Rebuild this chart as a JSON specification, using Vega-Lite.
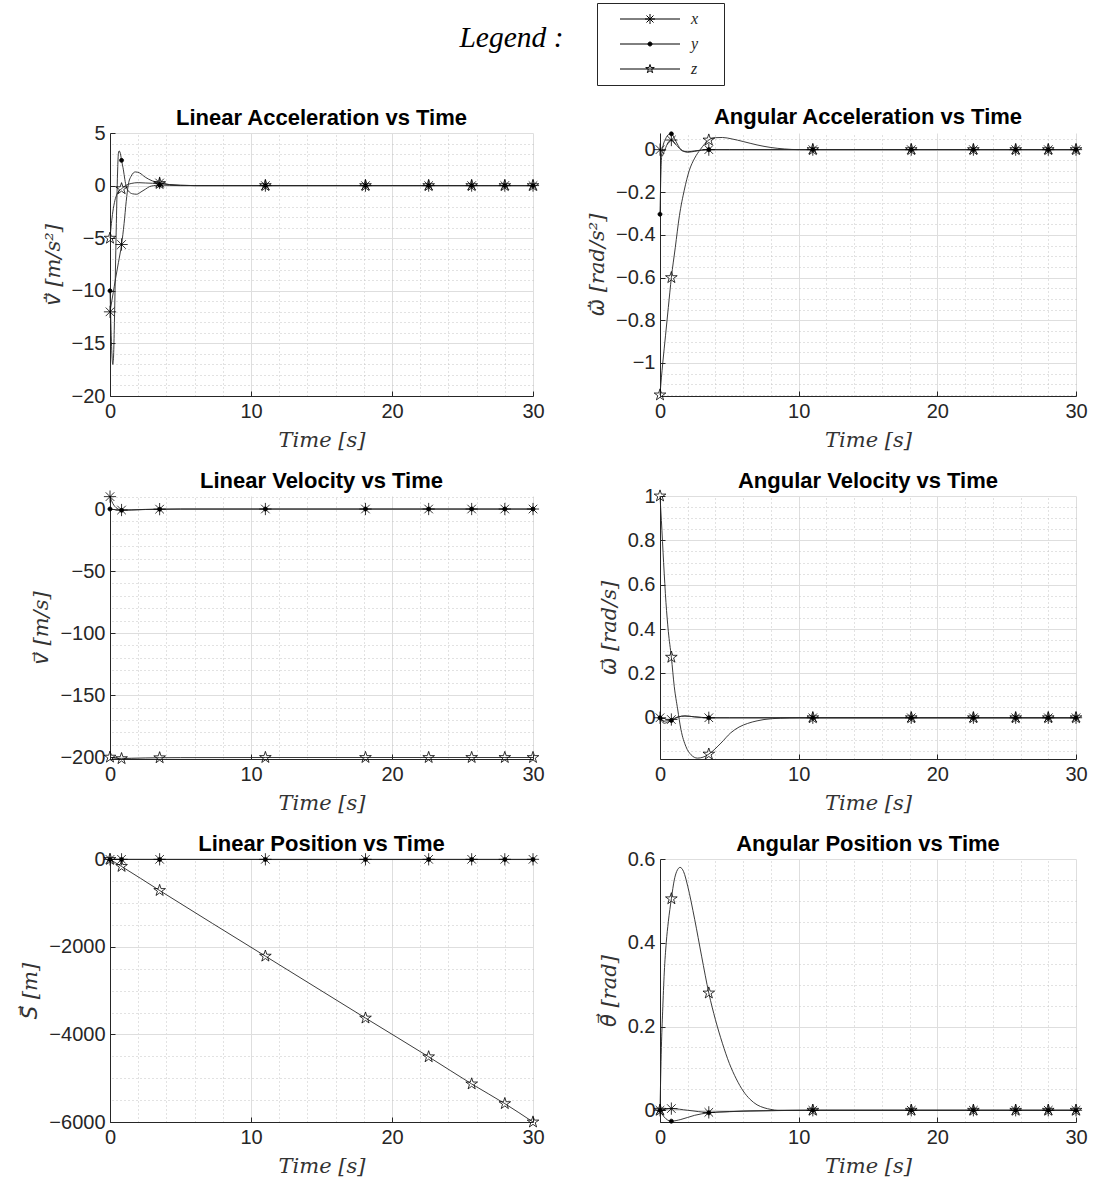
{
 "$schema": "https://vega.github.io/schema/vega-lite/v6.json",
 "background": "white",
 "padding": {"left": 19, "top": 2, "right": 5, "bottom": 5},
 "title": {"text": "Legend :", "font": "Liberation Serif", "fontStyle": "italic", "fontWeight": "normal", "fontSize": 29.5, "color": "#000", "anchor": "middle", "dx": -42, "offset": -51},
 "datasets": {
  "p1": [
   {"s":"x","t":0,"v":-12,"m":1},{"s":"x","t":0.2,"v":-10.4},{"s":"x","t":0.4,"v":-8.8},{"s":"x","t":0.6,"v":-7.3},{"s":"x","t":0.82,"v":-5.6,"m":1},{"s":"x","t":1.0,"v":-3.6},{"s":"x","t":1.15,"v":-1.5},{"s":"x","t":1.3,"v":0.1},{"s":"x","t":1.5,"v":0.9},{"s":"x","t":1.8,"v":1.3},{"s":"x","t":2.1,"v":1.2},{"s":"x","t":2.5,"v":0.8},{"s":"x","t":3.0,"v":0.45},{"s":"x","t":3.52,"v":0.25,"m":1},{"s":"x","t":4.2,"v":0.1},{"s":"x","t":5,"v":0.03},{"s":"x","t":6,"v":0},
   {"s":"x","t":11.02,"v":0,"m":1},{"s":"x","t":18.12,"v":0,"m":1},{"s":"x","t":22.6,"v":0,"m":1},{"s":"x","t":25.65,"v":0,"m":1},{"s":"x","t":28,"v":0,"m":1},{"s":"x","t":30,"v":0,"m":1},
   {"s":"y","t":0,"v":-10,"m":1},{"s":"y","t":0.05,"v":-12.5},{"s":"y","t":0.1,"v":-14.8},{"s":"y","t":0.15,"v":-16.4},{"s":"y","t":0.2,"v":-17},{"s":"y","t":0.25,"v":-16.3},{"s":"y","t":0.3,"v":-13.8},{"s":"y","t":0.35,"v":-10.5},{"s":"y","t":0.4,"v":-7},{"s":"y","t":0.45,"v":-3.6},{"s":"y","t":0.5,"v":-0.6},{"s":"y","t":0.55,"v":1.8},{"s":"y","t":0.6,"v":3.1},{"s":"y","t":0.65,"v":3.3},{"s":"y","t":0.7,"v":3.2},{"s":"y","t":0.76,"v":2.9},{"s":"y","t":0.82,"v":2.4,"m":1},{"s":"y","t":0.95,"v":1.5},{"s":"y","t":1.05,"v":0.6},{"s":"y","t":1.15,"v":-0.1},{"s":"y","t":1.3,"v":-0.5},{"s":"y","t":1.6,"v":-0.78},{"s":"y","t":1.9,"v":-0.82},{"s":"y","t":2.2,"v":-0.6},{"s":"y","t":2.5,"v":-0.35},{"s":"y","t":2.8,"v":-0.1},{"s":"y","t":3.1,"v":0},{"s":"y","t":3.52,"v":0.05,"m":1},{"s":"y","t":4.2,"v":0.02},{"s":"y","t":5,"v":0},
   {"s":"y","t":11.02,"v":0,"m":1},{"s":"y","t":18.12,"v":0,"m":1},{"s":"y","t":22.6,"v":0,"m":1},{"s":"y","t":25.65,"v":0,"m":1},{"s":"y","t":28,"v":0,"m":1},{"s":"y","t":30,"v":0,"m":1},
   {"s":"z","t":0,"v":-5,"m":1},{"s":"z","t":0.1,"v":-3.6},{"s":"z","t":0.2,"v":-2.5},{"s":"z","t":0.35,"v":-1.4},{"s":"z","t":0.5,"v":-0.8},{"s":"z","t":0.65,"v":-0.5},{"s":"z","t":0.82,"v":-0.3,"m":1},{"s":"z","t":1.1,"v":0},{"s":"z","t":1.5,"v":0.2},{"s":"z","t":2,"v":0.28},{"s":"z","t":2.5,"v":0.25},{"s":"z","t":3,"v":0.22},{"s":"z","t":3.52,"v":0.2,"m":1},{"s":"z","t":4.2,"v":0.1},{"s":"z","t":5,"v":0.03},{"s":"z","t":6,"v":0},
   {"s":"z","t":11.02,"v":0,"m":1},{"s":"z","t":18.12,"v":0,"m":1},{"s":"z","t":22.6,"v":0,"m":1},{"s":"z","t":25.65,"v":0,"m":1},{"s":"z","t":28,"v":0,"m":1},{"s":"z","t":30,"v":0,"m":1}
  ],
  "p2": [
   {"s":"x","t":0,"v":0,"m":1},{"s":"x","t":0.15,"v":-0.03},{"s":"x","t":0.35,"v":0},{"s":"x","t":0.6,"v":0.035},{"s":"x","t":0.82,"v":0.045,"m":1},{"s":"x","t":1.2,"v":0.02},{"s":"x","t":1.6,"v":-0.005},{"s":"x","t":2,"v":-0.01},{"s":"x","t":2.5,"v":-0.006},{"s":"x","t":3,"v":-0.002},{"s":"x","t":3.52,"v":0,"m":1},{"s":"x","t":5,"v":0},
   {"s":"x","t":11.02,"v":0,"m":1},{"s":"x","t":18.12,"v":0,"m":1},{"s":"x","t":22.6,"v":0,"m":1},{"s":"x","t":25.65,"v":0,"m":1},{"s":"x","t":28,"v":0,"m":1},{"s":"x","t":30,"v":0,"m":1},
   {"s":"y","t":0,"v":-0.303,"m":1},{"s":"y","t":0.05,"v":-0.15},{"s":"y","t":0.1,"v":-0.05},{"s":"y","t":0.2,"v":0.01},{"s":"y","t":0.4,"v":0.05},{"s":"y","t":0.6,"v":0.07},{"s":"y","t":0.82,"v":0.074,"m":1},{"s":"y","t":1.1,"v":0.045},{"s":"y","t":1.4,"v":0.01},{"s":"y","t":1.7,"v":-0.008},{"s":"y","t":2,"v":-0.012},{"s":"y","t":2.5,"v":-0.008},{"s":"y","t":3,"v":-0.002},{"s":"y","t":3.52,"v":0,"m":1},{"s":"y","t":5,"v":0},
   {"s":"y","t":11.02,"v":0,"m":1},{"s":"y","t":18.12,"v":0,"m":1},{"s":"y","t":22.6,"v":0,"m":1},{"s":"y","t":25.65,"v":0,"m":1},{"s":"y","t":28,"v":0,"m":1},{"s":"y","t":30,"v":0,"m":1},
   {"s":"z","t":0,"v":-1.15,"m":1},{"s":"z","t":0.1,"v":-1.07},{"s":"z","t":0.2,"v":-1.0},{"s":"z","t":0.4,"v":-0.87},{"s":"z","t":0.6,"v":-0.74},{"s":"z","t":0.82,"v":-0.6,"m":1},{"s":"z","t":1.1,"v":-0.46},{"s":"z","t":1.4,"v":-0.31},{"s":"z","t":1.75,"v":-0.19},{"s":"z","t":2.1,"v":-0.1},{"s":"z","t":2.5,"v":-0.04},{"s":"z","t":2.9,"v":0},{"s":"z","t":3.52,"v":0.045,"m":1},{"s":"z","t":4,"v":0.056},{"s":"z","t":4.5,"v":0.057},{"s":"z","t":5.2,"v":0.05},{"s":"z","t":6,"v":0.038},{"s":"z","t":7,"v":0.022},{"s":"z","t":8,"v":0.01},{"s":"z","t":9,"v":0.003},{"s":"z","t":10,"v":0},
   {"s":"z","t":11.02,"v":0,"m":1},{"s":"z","t":18.12,"v":0,"m":1},{"s":"z","t":22.6,"v":0,"m":1},{"s":"z","t":25.65,"v":0,"m":1},{"s":"z","t":28,"v":0,"m":1},{"s":"z","t":30,"v":0,"m":1}
  ],
  "p3": [
   {"s":"x","t":0,"v":10,"m":1},{"s":"x","t":0.1,"v":7},{"s":"x","t":0.2,"v":4.5},{"s":"x","t":0.35,"v":2},{"s":"x","t":0.5,"v":0.5},{"s":"x","t":0.82,"v":-0.8,"m":1},{"s":"x","t":1.5,"v":-0.7},{"s":"x","t":2.5,"v":-0.3},{"s":"x","t":3.52,"v":-0.1,"m":1},{"s":"x","t":5,"v":0},
   {"s":"x","t":11.02,"v":0,"m":1},{"s":"x","t":18.12,"v":0,"m":1},{"s":"x","t":22.6,"v":0,"m":1},{"s":"x","t":25.65,"v":0,"m":1},{"s":"x","t":28,"v":0,"m":1},{"s":"x","t":30,"v":0,"m":1},
   {"s":"y","t":0,"v":0,"m":1},{"s":"y","t":0.4,"v":-0.6},{"s":"y","t":0.82,"v":-1,"m":1},{"s":"y","t":1.5,"v":-0.8},{"s":"y","t":2.5,"v":-0.4},{"s":"y","t":3.52,"v":-0.2,"m":1},{"s":"y","t":5,"v":0},
   {"s":"y","t":11.02,"v":0,"m":1},{"s":"y","t":18.12,"v":0,"m":1},{"s":"y","t":22.6,"v":0,"m":1},{"s":"y","t":25.65,"v":0,"m":1},{"s":"y","t":28,"v":0,"m":1},{"s":"y","t":30,"v":0,"m":1},
   {"s":"z","t":0,"v":-200,"m":1},{"s":"z","t":0.3,"v":-200.8},{"s":"z","t":0.82,"v":-201.2,"m":1},{"s":"z","t":1.5,"v":-201},{"s":"z","t":2.5,"v":-200.7},{"s":"z","t":3.52,"v":-200.5,"m":1},{"s":"z","t":5,"v":-200.4},
   {"s":"z","t":11.02,"v":-200.3,"m":1},{"s":"z","t":18.12,"v":-200.3,"m":1},{"s":"z","t":22.6,"v":-200.3,"m":1},{"s":"z","t":25.65,"v":-200.3,"m":1},{"s":"z","t":28,"v":-200.3,"m":1},{"s":"z","t":30,"v":-200.3,"m":1}
  ],
  "p4": [
   {"s":"x","t":0,"v":0,"m":1},{"s":"x","t":0.3,"v":-0.015},{"s":"x","t":0.82,"v":-0.008,"m":1},{"s":"x","t":1.3,"v":0.004},{"s":"x","t":1.8,"v":0.008},{"s":"x","t":2.5,"v":0.004},{"s":"x","t":3.52,"v":0,"m":1},{"s":"x","t":5,"v":0},
   {"s":"x","t":11.02,"v":0,"m":1},{"s":"x","t":18.12,"v":0,"m":1},{"s":"x","t":22.6,"v":0,"m":1},{"s":"x","t":25.65,"v":0,"m":1},{"s":"x","t":28,"v":0,"m":1},{"s":"x","t":30,"v":0,"m":1},
   {"s":"y","t":0,"v":0,"m":1},{"s":"y","t":0.3,"v":-0.025},{"s":"y","t":0.6,"v":-0.018},{"s":"y","t":0.82,"v":-0.012,"m":1},{"s":"y","t":1.3,"v":0.003},{"s":"y","t":1.8,"v":0.008},{"s":"y","t":2.5,"v":0.004},{"s":"y","t":3.52,"v":0,"m":1},{"s":"y","t":5,"v":0},
   {"s":"y","t":11.02,"v":0,"m":1},{"s":"y","t":18.12,"v":0,"m":1},{"s":"y","t":22.6,"v":0,"m":1},{"s":"y","t":25.65,"v":0,"m":1},{"s":"y","t":28,"v":0,"m":1},{"s":"y","t":30,"v":0,"m":1},
   {"s":"z","t":0,"v":1,"m":1},{"s":"z","t":0.1,"v":0.89},{"s":"z","t":0.26,"v":0.7},{"s":"z","t":0.43,"v":0.52},{"s":"z","t":0.6,"v":0.39},{"s":"z","t":0.82,"v":0.273,"m":1},{"s":"z","t":1.03,"v":0.14},{"s":"z","t":1.27,"v":0.04},{"s":"z","t":1.51,"v":-0.053},{"s":"z","t":1.87,"v":-0.13},{"s":"z","t":2.24,"v":-0.167},{"s":"z","t":2.7,"v":-0.182},{"s":"z","t":3.1,"v":-0.178},{"s":"z","t":3.52,"v":-0.164,"m":1},{"s":"z","t":4.4,"v":-0.114},{"s":"z","t":5.1,"v":-0.068},{"s":"z","t":5.7,"v":-0.042},{"s":"z","t":6.3,"v":-0.026},{"s":"z","t":7,"v":-0.014},{"s":"z","t":7.5,"v":-0.008},{"s":"z","t":8.7,"v":-0.002},{"s":"z","t":10,"v":0},
   {"s":"z","t":11.02,"v":0,"m":1},{"s":"z","t":18.12,"v":0,"m":1},{"s":"z","t":22.6,"v":0,"m":1},{"s":"z","t":25.65,"v":0,"m":1},{"s":"z","t":28,"v":0,"m":1},{"s":"z","t":30,"v":0,"m":1}
  ],
  "p5": [
   {"s":"x","t":0,"v":0,"m":1},{"s":"x","t":0.3,"v":1.8},{"s":"x","t":0.82,"v":2.5,"m":1},{"s":"x","t":3.52,"v":2.6,"m":1},
   {"s":"x","t":11.02,"v":2.6,"m":1},{"s":"x","t":18.12,"v":2.6,"m":1},{"s":"x","t":22.6,"v":2.6,"m":1},{"s":"x","t":25.65,"v":2.6,"m":1},{"s":"x","t":28,"v":2.6,"m":1},{"s":"x","t":30,"v":2.6,"m":1},
   {"s":"y","t":0,"v":0,"m":1},{"s":"y","t":0.82,"v":-0.5,"m":1},{"s":"y","t":3.52,"v":-1.5,"m":1},
   {"s":"y","t":11.02,"v":-1.8,"m":1},{"s":"y","t":18.12,"v":-1.8,"m":1},{"s":"y","t":22.6,"v":-1.8,"m":1},{"s":"y","t":25.65,"v":-1.8,"m":1},{"s":"y","t":28,"v":-1.8,"m":1},{"s":"y","t":30,"v":-1.8,"m":1},
   {"s":"z","t":0,"v":0,"m":1},{"s":"z","t":0.82,"v":-160,"m":1},{"s":"z","t":3.52,"v":-710,"m":1},{"s":"z","t":11.02,"v":-2210,"m":1},{"s":"z","t":18.12,"v":-3625,"m":1},{"s":"z","t":22.6,"v":-4510,"m":1},{"s":"z","t":25.65,"v":-5130,"m":1},{"s":"z","t":28,"v":-5580,"m":1},{"s":"z","t":30,"v":-6000,"m":1}
  ],
  "p6": [
   {"s":"x","t":0,"v":0,"m":1},{"s":"x","t":0.82,"v":0.004,"m":1},{"s":"x","t":2,"v":0},{"s":"x","t":3.52,"v":-0.005,"m":1},{"s":"x","t":6,"v":-0.002},
   {"s":"x","t":11.02,"v":0,"m":1},{"s":"x","t":18.12,"v":0,"m":1},{"s":"x","t":22.6,"v":0,"m":1},{"s":"x","t":25.65,"v":0,"m":1},{"s":"x","t":28,"v":0,"m":1},{"s":"x","t":30,"v":0,"m":1},
   {"s":"y","t":0,"v":0,"m":1},{"s":"y","t":0.3,"v":-0.016},{"s":"y","t":0.82,"v":-0.026,"m":1},{"s":"y","t":1.5,"v":-0.022},{"s":"y","t":2.5,"v":-0.012},{"s":"y","t":3.52,"v":-0.006,"m":1},{"s":"y","t":5,"v":-0.003},{"s":"y","t":8,"v":-0.001},
   {"s":"y","t":11.02,"v":0,"m":1},{"s":"y","t":18.12,"v":0,"m":1},{"s":"y","t":22.6,"v":0,"m":1},{"s":"y","t":25.65,"v":0,"m":1},{"s":"y","t":28,"v":0,"m":1},{"s":"y","t":30,"v":0,"m":1},
   {"s":"z","t":0,"v":0,"m":1},{"s":"z","t":0.05,"v":0.08},{"s":"z","t":0.1,"v":0.15},{"s":"z","t":0.19,"v":0.235},{"s":"z","t":0.31,"v":0.33},{"s":"z","t":0.45,"v":0.4},{"s":"z","t":0.6,"v":0.45},{"s":"z","t":0.82,"v":0.505,"m":1},{"s":"z","t":1.03,"v":0.55},{"s":"z","t":1.2,"v":0.57},{"s":"z","t":1.45,"v":0.58},{"s":"z","t":1.7,"v":0.57},{"s":"z","t":2,"v":0.535},{"s":"z","t":2.5,"v":0.456},{"s":"z","t":3,"v":0.368},{"s":"z","t":3.52,"v":0.28,"m":1},{"s":"z","t":4,"v":0.216},{"s":"z","t":4.5,"v":0.16},{"s":"z","t":5,"v":0.112},{"s":"z","t":5.5,"v":0.075},{"s":"z","t":6,"v":0.046},{"s":"z","t":6.5,"v":0.026},{"s":"z","t":7,"v":0.013},{"s":"z","t":7.5,"v":0.006},{"s":"z","t":8,"v":0.002},{"s":"z","t":8.5,"v":0},
   {"s":"z","t":11.02,"v":0,"m":1},{"s":"z","t":18.12,"v":0,"m":1},{"s":"z","t":22.6,"v":0,"m":1},{"s":"z","t":25.65,"v":0,"m":1},{"s":"z","t":28,"v":0,"m":1},{"s":"z","t":30,"v":0,"m":1}
  ]
 },
 "columns": 2,
 "spacing": {"row": 100, "column": 127},
 "bounds": "flush",
 "align": "all",
 "concat": [
  {"title": {"text": "Linear Acceleration vs Time", "offset": -7}, "width": 423, "height": 263, "data": {"name": "p1"},
   "layer": [
    {"mark": {"type": "line", "interpolate": "monotone", "stroke": "#262626", "strokeWidth": 0.9},
     "encoding": {
      "x": {"field": "t", "type": "quantitative", "scale": {"domain": [0, 30], "nice": false, "zero": false}, "axis": {"values": [0, 10, 20, 30], "title": "Time [s]", "grid": true, "labelExpr": "format(datum.value, '~g')"}},
      "y": {"field": "v", "type": "quantitative", "scale": {"domain": [-20, 5], "nice": false, "zero": false}, "axis": {"values": [-20, -15, -10, -5, 0, 5], "title": "v\u0307\u20d7 [m/s\u00b2]", "grid": true, "labelExpr": "format(datum.value, '~g')"}},
      "detail": {"field": "s", "type": "nominal"}}},
    {"transform": [{"filter": "datum.m == 1 && datum.s == 'x'"}],
     "mark": {"type": "point", "shape": "M0,-1V1M-1,0H1M-0.7,-0.7L0.7,0.7M-0.7,0.7L0.7,-0.7", "filled": true, "fill": "transparent", "stroke": "#000", "strokeWidth": 0.8, "size": 150, "opacity": 1},
     "encoding": {
      "x": {"field": "t", "type": "quantitative", "scale": {"domain": [0, 30], "nice": false, "zero": false}, "axis": {"values": [2,4,6,8,12,14,16,18,22,24,26,28], "grid": true, "gridDash": [1, 3], "gridColor": "#c4c4c4", "labels": false, "ticks": false, "domain": false, "title": null}},
      "y": {"field": "v", "type": "quantitative", "scale": {"domain": [-20, 5], "nice": false, "zero": false}, "axis": {"values": [-19,-18,-17,-16,-14,-13,-12,-11,-9,-8,-7,-6,-4,-3,-2,-1,1,2,3,4], "grid": true, "gridDash": [1, 3], "gridColor": "#c4c4c4", "labels": false, "ticks": false, "domain": false, "title": null}}}},
    {"transform": [{"filter": "datum.m == 1 && datum.s == 'y'"}],
     "mark": {"type": "point", "shape": "M-0.33,0A0.33,0.33,0,1,0,0.33,0A0.33,0.33,0,1,0,-0.33,0Z", "filled": true, "fill": "#000", "stroke": "#000", "strokeWidth": 0.8, "size": 150, "opacity": 1},
     "encoding": {"x": {"field": "t", "type": "quantitative", "axis": null}, "y": {"field": "v", "type": "quantitative", "axis": null}}},
    {"transform": [{"filter": "datum.m == 1 && datum.s == 'z'"}],
     "mark": {"type": "point", "shape": "M0,-1L0.2245,-0.309L0.951,-0.309L0.363,0.118L0.588,0.809L0,0.382L-0.588,0.809L-0.363,0.118L-0.951,-0.309L-0.2245,-0.309Z", "filled": true, "fill": "transparent", "stroke": "#000", "strokeWidth": 0.8, "size": 150, "opacity": 1},
     "encoding": {"x": {"field": "t", "type": "quantitative", "axis": null}, "y": {"field": "v", "type": "quantitative", "axis": null}}},
    {"transform": [{"filter": "datum.m == 1 && datum.t == 0"}],
     "mark": {"type": "point", "filled": true, "stroke": "#000", "strokeWidth": 1, "size": 100, "opacity": 0},
     "encoding": {
      "x": {"field": "t", "type": "quantitative", "axis": null},
      "y": {"field": "v", "type": "quantitative", "axis": null},
      "shape": {"field": "s", "type": "nominal", "scale": {"domain": ["x", "y", "z"], "range": ["M1.4,0H13.4M7.4,-1V1M6.4,0H8.4M6.7,-0.7L8.1,0.7M6.7,0.7L8.1,-0.7M20.2,0", "M1.4,0H13.4M7,0A0.4,0.4,0,1,0,7.8,0A0.4,0.4,0,1,0,7,0ZM20.2,0", "M1.4,0H13.4M7.4,-0.9L7.602,-0.278L8.256,-0.278L7.727,0.106L7.929,0.728L7.4,0.344L6.871,0.728L7.073,0.106L6.544,-0.278L7.198,-0.278ZM20.2,0"]},
        "legend": {"title": null, "orient": "none", "legendX": 487, "legendY": -130}},
      "fill": {"field": "s", "type": "nominal", "scale": {"domain": ["x", "y", "z"], "range": ["transparent", "#000", "transparent"]},
        "legend": {"title": null, "orient": "none", "legendX": 487, "legendY": -130}}}}
   ],
   "resolve": {"axis": {"x": "independent", "y": "independent"}}},
  {"title": {"text": "Angular Acceleration vs Time", "offset": 1}, "width": 416, "height": 263, "data": {"name": "p2"},
   "layer": [
    {"mark": {"type": "line", "interpolate": "monotone", "stroke": "#262626", "strokeWidth": 0.9},
     "encoding": {
      "x": {"field": "t", "type": "quantitative", "scale": {"domain": [0, 30], "nice": false, "zero": false}, "axis": {"values": [0, 10, 20, 30], "title": "Time [s]", "grid": true, "labelExpr": "format(datum.value, '~g')"}},
      "y": {"field": "v", "type": "quantitative", "scale": {"domain": [-1.155, 0.078], "nice": false, "zero": false}, "axis": {"values": [-1, -0.8, -0.6, -0.4, -0.2, 0], "title": "\u03c9\u0307\u20d7 [rad/s\u00b2]", "grid": true, "labelExpr": "format(datum.value, '~g')"}},
      "detail": {"field": "s", "type": "nominal"}}},
    {"transform": [{"filter": "datum.m == 1 && datum.s == 'x'"}],
     "mark": {"type": "point", "shape": "M0,-1V1M-1,0H1M-0.7,-0.7L0.7,0.7M-0.7,0.7L0.7,-0.7", "filled": true, "fill": "transparent", "stroke": "#000", "strokeWidth": 0.8, "size": 150, "opacity": 1},
     "encoding": {
      "x": {"field": "t", "type": "quantitative", "scale": {"domain": [0, 30], "nice": false, "zero": false}, "axis": {"values": [2,4,6,8,12,14,16,18,22,24,26,28], "grid": true, "gridDash": [1, 3], "gridColor": "#c4c4c4", "labels": false, "ticks": false, "domain": false, "title": null}},
      "y": {"field": "v", "type": "quantitative", "scale": {"domain": [-1.155, 0.078], "nice": false, "zero": false}, "axis": {"values": [-1.15,-1.1,-1.05,-0.95,-0.9,-0.85,-0.75,-0.7,-0.65,-0.55,-0.5,-0.45,-0.35,-0.3,-0.25,-0.15,-0.1,-0.05,0.05], "grid": true, "gridDash": [1, 3], "gridColor": "#c4c4c4", "labels": false, "ticks": false, "domain": false, "title": null}}}},
    {"transform": [{"filter": "datum.m == 1 && datum.s == 'y'"}],
     "mark": {"type": "point", "shape": "M-0.33,0A0.33,0.33,0,1,0,0.33,0A0.33,0.33,0,1,0,-0.33,0Z", "filled": true, "fill": "#000", "stroke": "#000", "strokeWidth": 0.8, "size": 150, "opacity": 1},
     "encoding": {"x": {"field": "t", "type": "quantitative", "axis": null}, "y": {"field": "v", "type": "quantitative", "axis": null}}},
    {"transform": [{"filter": "datum.m == 1 && datum.s == 'z'"}],
     "mark": {"type": "point", "shape": "M0,-1L0.2245,-0.309L0.951,-0.309L0.363,0.118L0.588,0.809L0,0.382L-0.588,0.809L-0.363,0.118L-0.951,-0.309L-0.2245,-0.309Z", "filled": true, "fill": "transparent", "stroke": "#000", "strokeWidth": 0.8, "size": 150, "opacity": 1},
     "encoding": {"x": {"field": "t", "type": "quantitative", "axis": null}, "y": {"field": "v", "type": "quantitative", "axis": null}}}
   ],
   "resolve": {"axis": {"x": "independent", "y": "independent"}}},
  {"title": {"text": "Linear Velocity vs Time", "offset": -4}, "width": 423, "height": 263, "data": {"name": "p3"},
   "layer": [
    {"mark": {"type": "line", "interpolate": "monotone", "stroke": "#262626", "strokeWidth": 0.9},
     "encoding": {
      "x": {"field": "t", "type": "quantitative", "scale": {"domain": [0, 30], "nice": false, "zero": false}, "axis": {"values": [0, 10, 20, 30], "title": "Time [s]", "grid": true, "labelExpr": "format(datum.value, '~g')"}},
      "y": {"field": "v", "type": "quantitative", "scale": {"domain": [-201.5, 10.5], "nice": false, "zero": false}, "axis": {"values": [-200, -150, -100, -50, 0], "title": "v\u20d7 [m/s]", "grid": true, "labelExpr": "format(datum.value, '~g')"}},
      "detail": {"field": "s", "type": "nominal"}}},
    {"transform": [{"filter": "datum.m == 1 && datum.s == 'x'"}],
     "mark": {"type": "point", "shape": "M0,-1V1M-1,0H1M-0.7,-0.7L0.7,0.7M-0.7,0.7L0.7,-0.7", "filled": true, "fill": "transparent", "stroke": "#000", "strokeWidth": 0.8, "size": 150, "opacity": 1},
     "encoding": {
      "x": {"field": "t", "type": "quantitative", "scale": {"domain": [0, 30], "nice": false, "zero": false}, "axis": {"values": [2,4,6,8,12,14,16,18,22,24,26,28], "grid": true, "gridDash": [1, 3], "gridColor": "#c4c4c4", "labels": false, "ticks": false, "domain": false, "title": null}},
      "y": {"field": "v", "type": "quantitative", "scale": {"domain": [-201.5, 10.5], "nice": false, "zero": false}, "axis": {"values": [-190,-180,-170,-160,-140,-130,-120,-110,-90,-80,-70,-60,-40,-30,-20,-10,10], "grid": true, "gridDash": [1, 3], "gridColor": "#c4c4c4", "labels": false, "ticks": false, "domain": false, "title": null}}}},
    {"transform": [{"filter": "datum.m == 1 && datum.s == 'y'"}],
     "mark": {"type": "point", "shape": "M-0.33,0A0.33,0.33,0,1,0,0.33,0A0.33,0.33,0,1,0,-0.33,0Z", "filled": true, "fill": "#000", "stroke": "#000", "strokeWidth": 0.8, "size": 150, "opacity": 1},
     "encoding": {"x": {"field": "t", "type": "quantitative", "axis": null}, "y": {"field": "v", "type": "quantitative", "axis": null}}},
    {"transform": [{"filter": "datum.m == 1 && datum.s == 'z'"}],
     "mark": {"type": "point", "shape": "M0,-1L0.2245,-0.309L0.951,-0.309L0.363,0.118L0.588,0.809L0,0.382L-0.588,0.809L-0.363,0.118L-0.951,-0.309L-0.2245,-0.309Z", "filled": true, "fill": "transparent", "stroke": "#000", "strokeWidth": 0.8, "size": 150, "opacity": 1},
     "encoding": {"x": {"field": "t", "type": "quantitative", "axis": null}, "y": {"field": "v", "type": "quantitative", "axis": null}}}
   ],
   "resolve": {"axis": {"x": "independent", "y": "independent"}}},
  {"title": {"text": "Angular Velocity vs Time", "offset": -7}, "width": 416, "height": 263, "data": {"name": "p4"},
   "layer": [
    {"mark": {"type": "line", "interpolate": "monotone", "stroke": "#262626", "strokeWidth": 0.9},
     "encoding": {
      "x": {"field": "t", "type": "quantitative", "scale": {"domain": [0, 30], "nice": false, "zero": false}, "axis": {"values": [0, 10, 20, 30], "title": "Time [s]", "grid": true, "labelExpr": "format(datum.value, '~g')"}},
      "y": {"field": "v", "type": "quantitative", "scale": {"domain": [-0.186, 1], "nice": false, "zero": false}, "axis": {"values": [0, 0.2, 0.4, 0.6, 0.8, 1], "title": "\u03c9\u20d7 [rad/s]", "grid": true, "labelExpr": "format(datum.value, '~g')"}},
      "detail": {"field": "s", "type": "nominal"}}},
    {"transform": [{"filter": "datum.m == 1 && datum.s == 'x'"}],
     "mark": {"type": "point", "shape": "M0,-1V1M-1,0H1M-0.7,-0.7L0.7,0.7M-0.7,0.7L0.7,-0.7", "filled": true, "fill": "transparent", "stroke": "#000", "strokeWidth": 0.8, "size": 150, "opacity": 1},
     "encoding": {
      "x": {"field": "t", "type": "quantitative", "scale": {"domain": [0, 30], "nice": false, "zero": false}, "axis": {"values": [2,4,6,8,12,14,16,18,22,24,26,28], "grid": true, "gridDash": [1, 3], "gridColor": "#c4c4c4", "labels": false, "ticks": false, "domain": false, "title": null}},
      "y": {"field": "v", "type": "quantitative", "scale": {"domain": [-0.186, 1], "nice": false, "zero": false}, "axis": {"values": [-0.15,-0.1,-0.05,0.05,0.1,0.15,0.25,0.3,0.35,0.45,0.5,0.55,0.65,0.7,0.75,0.85,0.9,0.95], "grid": true, "gridDash": [1, 3], "gridColor": "#c4c4c4", "labels": false, "ticks": false, "domain": false, "title": null}}}},
    {"transform": [{"filter": "datum.m == 1 && datum.s == 'y'"}],
     "mark": {"type": "point", "shape": "M-0.33,0A0.33,0.33,0,1,0,0.33,0A0.33,0.33,0,1,0,-0.33,0Z", "filled": true, "fill": "#000", "stroke": "#000", "strokeWidth": 0.8, "size": 150, "opacity": 1},
     "encoding": {"x": {"field": "t", "type": "quantitative", "axis": null}, "y": {"field": "v", "type": "quantitative", "axis": null}}},
    {"transform": [{"filter": "datum.m == 1 && datum.s == 'z'"}],
     "mark": {"type": "point", "shape": "M0,-1L0.2245,-0.309L0.951,-0.309L0.363,0.118L0.588,0.809L0,0.382L-0.588,0.809L-0.363,0.118L-0.951,-0.309L-0.2245,-0.309Z", "filled": true, "fill": "transparent", "stroke": "#000", "strokeWidth": 0.8, "size": 150, "opacity": 1},
     "encoding": {"x": {"field": "t", "type": "quantitative", "axis": null}, "y": {"field": "v", "type": "quantitative", "axis": null}}}
   ],
   "resolve": {"axis": {"x": "independent", "y": "independent"}}},
  {"title": {"text": "Linear Position vs Time", "offset": -7}, "width": 423, "height": 263, "data": {"name": "p5"},
   "layer": [
    {"mark": {"type": "line", "interpolate": "monotone", "stroke": "#262626", "strokeWidth": 0.9},
     "encoding": {
      "x": {"field": "t", "type": "quantitative", "scale": {"domain": [0, 30], "nice": false, "zero": false}, "axis": {"values": [0, 10, 20, 30], "title": "Time [s]", "grid": true, "labelExpr": "format(datum.value, '~g')"}},
      "y": {"field": "v", "type": "quantitative", "scale": {"domain": [-6000, 10], "nice": false, "zero": false}, "axis": {"values": [-6000, -4000, -2000, 0], "title": "S\u20d7 [m]", "grid": true, "labelExpr": "format(datum.value, '~g')"}},
      "detail": {"field": "s", "type": "nominal"}}},
    {"transform": [{"filter": "datum.m == 1 && datum.s == 'x'"}],
     "mark": {"type": "point", "shape": "M0,-1V1M-1,0H1M-0.7,-0.7L0.7,0.7M-0.7,0.7L0.7,-0.7", "filled": true, "fill": "transparent", "stroke": "#000", "strokeWidth": 0.8, "size": 150, "opacity": 1},
     "encoding": {
      "x": {"field": "t", "type": "quantitative", "scale": {"domain": [0, 30], "nice": false, "zero": false}, "axis": {"values": [2,4,6,8,12,14,16,18,22,24,26,28], "grid": true, "gridDash": [1, 3], "gridColor": "#c4c4c4", "labels": false, "ticks": false, "domain": false, "title": null}},
      "y": {"field": "v", "type": "quantitative", "scale": {"domain": [-6000, 10], "nice": false, "zero": false}, "axis": {"values": [-5500,-5000,-4500,-3500,-3000,-2500,-1500,-1000,-500], "grid": true, "gridDash": [1, 3], "gridColor": "#c4c4c4", "labels": false, "ticks": false, "domain": false, "title": null}}}},
    {"transform": [{"filter": "datum.m == 1 && datum.s == 'y'"}],
     "mark": {"type": "point", "shape": "M-0.33,0A0.33,0.33,0,1,0,0.33,0A0.33,0.33,0,1,0,-0.33,0Z", "filled": true, "fill": "#000", "stroke": "#000", "strokeWidth": 0.8, "size": 150, "opacity": 1},
     "encoding": {"x": {"field": "t", "type": "quantitative", "axis": null}, "y": {"field": "v", "type": "quantitative", "axis": null}}},
    {"transform": [{"filter": "datum.m == 1 && datum.s == 'z'"}],
     "mark": {"type": "point", "shape": "M0,-1L0.2245,-0.309L0.951,-0.309L0.363,0.118L0.588,0.809L0,0.382L-0.588,0.809L-0.363,0.118L-0.951,-0.309L-0.2245,-0.309Z", "filled": true, "fill": "transparent", "stroke": "#000", "strokeWidth": 0.8, "size": 150, "opacity": 1},
     "encoding": {"x": {"field": "t", "type": "quantitative", "axis": null}, "y": {"field": "v", "type": "quantitative", "axis": null}}}
   ],
   "resolve": {"axis": {"x": "independent", "y": "independent"}}},
  {"title": {"text": "Angular Position vs Time", "offset": -7}, "width": 416, "height": 263, "data": {"name": "p6"},
   "layer": [
    {"mark": {"type": "line", "interpolate": "monotone", "stroke": "#262626", "strokeWidth": 0.9},
     "encoding": {
      "x": {"field": "t", "type": "quantitative", "scale": {"domain": [0, 30], "nice": false, "zero": false}, "axis": {"values": [0, 10, 20, 30], "title": "Time [s]", "grid": true, "labelExpr": "format(datum.value, '~g')"}},
      "y": {"field": "v", "type": "quantitative", "scale": {"domain": [-0.028, 0.6], "nice": false, "zero": false}, "axis": {"values": [0, 0.2, 0.4, 0.6], "title": "\u03b8\u20d7 [rad]", "grid": true, "labelExpr": "format(datum.value, '~g')"}},
      "detail": {"field": "s", "type": "nominal"}}},
    {"transform": [{"filter": "datum.m == 1 && datum.s == 'x'"}],
     "mark": {"type": "point", "shape": "M0,-1V1M-1,0H1M-0.7,-0.7L0.7,0.7M-0.7,0.7L0.7,-0.7", "filled": true, "fill": "transparent", "stroke": "#000", "strokeWidth": 0.8, "size": 150, "opacity": 1},
     "encoding": {
      "x": {"field": "t", "type": "quantitative", "scale": {"domain": [0, 30], "nice": false, "zero": false}, "axis": {"values": [2,4,6,8,12,14,16,18,22,24,26,28], "grid": true, "gridDash": [1, 3], "gridColor": "#c4c4c4", "labels": false, "ticks": false, "domain": false, "title": null}},
      "y": {"field": "v", "type": "quantitative", "scale": {"domain": [-0.028, 0.6], "nice": false, "zero": false}, "axis": {"values": [0.05,0.1,0.15,0.25,0.3,0.35,0.45,0.5,0.55], "grid": true, "gridDash": [1, 3], "gridColor": "#c4c4c4", "labels": false, "ticks": false, "domain": false, "title": null}}}},
    {"transform": [{"filter": "datum.m == 1 && datum.s == 'y'"}],
     "mark": {"type": "point", "shape": "M-0.33,0A0.33,0.33,0,1,0,0.33,0A0.33,0.33,0,1,0,-0.33,0Z", "filled": true, "fill": "#000", "stroke": "#000", "strokeWidth": 0.8, "size": 150, "opacity": 1},
     "encoding": {"x": {"field": "t", "type": "quantitative", "axis": null}, "y": {"field": "v", "type": "quantitative", "axis": null}}},
    {"transform": [{"filter": "datum.m == 1 && datum.s == 'z'"}],
     "mark": {"type": "point", "shape": "M0,-1L0.2245,-0.309L0.951,-0.309L0.363,0.118L0.588,0.809L0,0.382L-0.588,0.809L-0.363,0.118L-0.951,-0.309L-0.2245,-0.309Z", "filled": true, "fill": "transparent", "stroke": "#000", "strokeWidth": 0.8, "size": 150, "opacity": 1},
     "encoding": {"x": {"field": "t", "type": "quantitative", "axis": null}, "y": {"field": "v", "type": "quantitative", "axis": null}}}
   ],
   "resolve": {"axis": {"x": "independent", "y": "independent"}}}
 ],
 "config": {
  "view": {"stroke": null},
  "axis": {
   "labelFont": "Liberation Sans", "labelFontSize": 20, "labelColor": "#262626",
   "domainColor": "#262626", "domainWidth": 1, "tickColor": "#262626", "tickSize": -5, "tickWidth": 1,
   "labelPadding": 10, "gridColor": "#dedede", "gridWidth": 1,
   "titleFont": "DejaVu Serif, DejaVu Sans", "titleFontStyle": "italic", "titleFontWeight": "normal", "titleFontSize": 21, "titleColor": "#333", "titlePadding": 8,
   "labelOverlap": false, "labelFlush": false
  },
  "title": {"font": "Liberation Sans", "fontSize": 22, "fontWeight": "bold", "color": "#000"},
  "legend": {
   "direction": "vertical", "padding": 8, "strokeColor": "#262626", "fillColor": "white",
   "symbolSize": 100, "symbolStrokeWidth": 1, "symbolOpacity": 1,
   "labelFont": "Liberation Serif", "labelFontStyle": "italic", "labelFontSize": 16, "labelColor": "#262626", "labelOffset": 70,
   "rowPadding": 9
  }
 }
}
